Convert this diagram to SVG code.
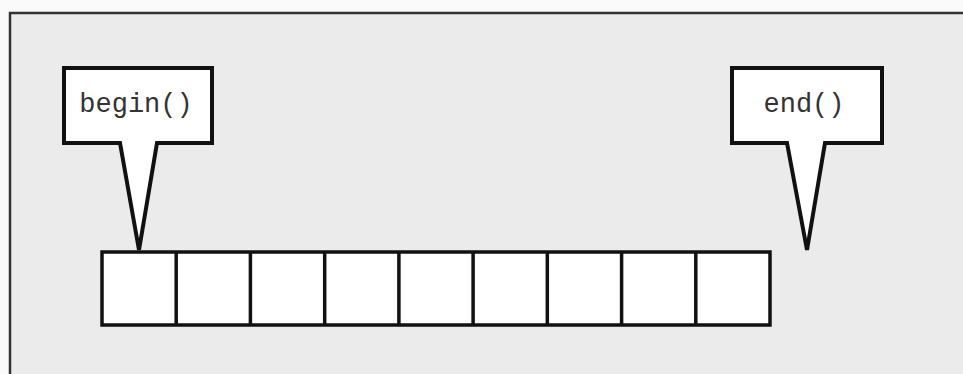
<svg xmlns="http://www.w3.org/2000/svg" width="963" height="374" viewBox="0 0 963 374">
<style>
.call{fill:#fff;stroke:#111;stroke-width:4;stroke-linejoin:miter}
.cell{fill:#fff;stroke:#111;stroke-width:3.5}
.lbl{font-family:"Liberation Mono","Courier New",monospace;font-size:27px;fill:#333;text-anchor:middle}
.frame{stroke:#333;stroke-width:2.5;fill:none}
</style>
<rect x="0" y="0" width="963" height="374" fill="#fafafa"/>
<rect x="10" y="13" width="953" height="361" fill="#ebebeb"/>
<path class="frame" d="M10 374 V13 H963"/>
<g id="begin">
<path class="call" d="M64 68 H212 V143 H157 L139 250 L120 143 H64 Z"/>
<text class="lbl" x="136" y="112">begin()</text>
</g>
<g id="end">
<path class="call" d="M732 68 H882 V143 H825 L807 250 L787 143 H732 Z"/>
<text class="lbl" x="804" y="112">end()</text>
</g>
<g id="array">
<rect class="cell" x="102" y="252" width="668" height="73"/>
<path class="cell" d="M176.2 252 V325 M250.4 252 V325 M324.7 252 V325 M398.9 252 V325 M473.1 252 V325 M547.3 252 V325 M621.6 252 V325 M695.8 252 V325"/>
</g>
<g id="connectors"></g>
</svg>
